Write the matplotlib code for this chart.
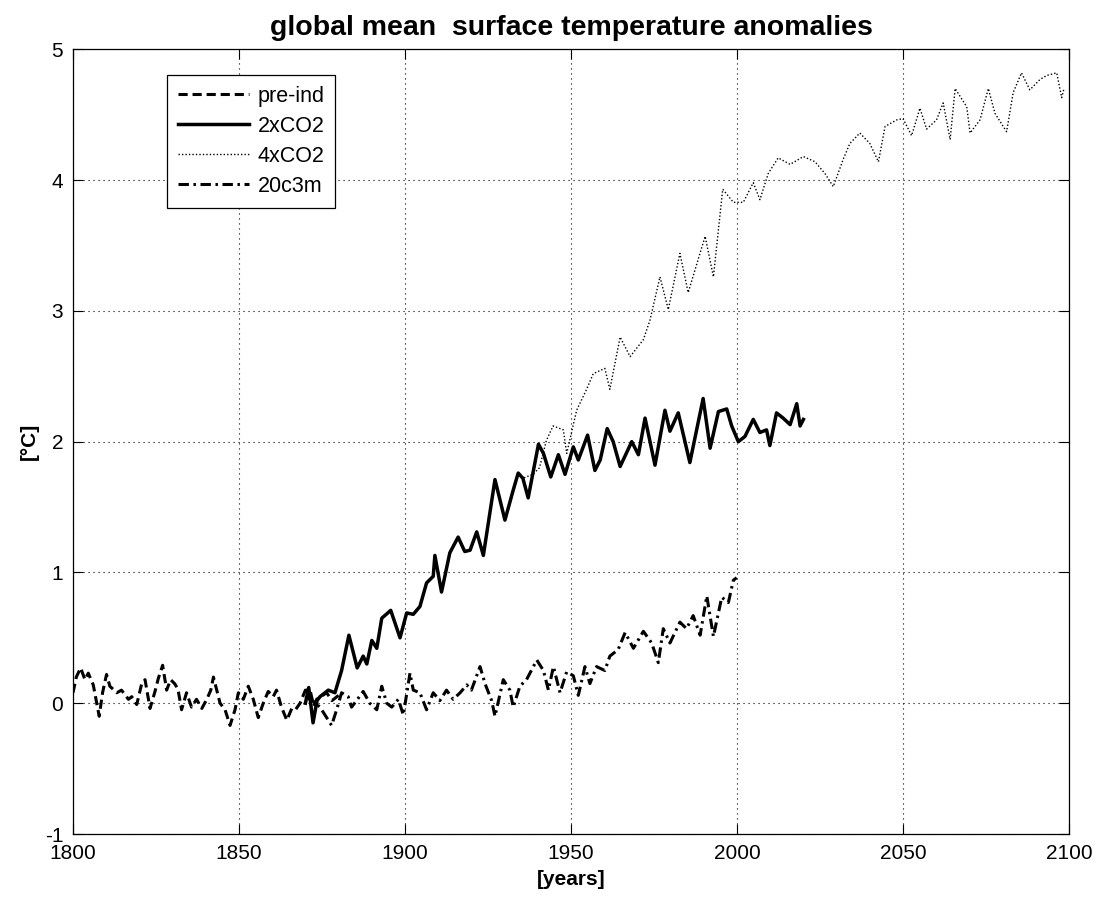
import matplotlib
matplotlib.use("Agg")
import matplotlib.pyplot as plt
import numpy as np

plt.rcParams['font.family'] = ['Liberation Sans', 'DejaVu Sans']
plt.rcParams['axes.unicode_minus'] = False

# --- pre-industrial control run ---
preind_years = [1800, 1801, 1802.3, 1803.6, 1804.6, 1806.1, 1807.9, 1808.9, 1810.1, 1811.1,
                1813.2, 1814.6, 1816.7, 1817.7, 1819.2, 1820.7, 1821.7, 1823.2, 1824.7, 1825.7,
                1827.0, 1828.2, 1829.4, 1830.6, 1831.6, 1832.7, 1834.2, 1835.7, 1837.2, 1838.8,
                1840.3, 1841.5, 1842.3, 1843.3, 1844.3, 1845.8, 1847.3, 1848.8, 1849.8, 1851.3,
                1852.8, 1854.3, 1855.8, 1857.3, 1858.8, 1860.3, 1861.3, 1862.8, 1864.4, 1865.9,
                1867.0, 1868.4, 1870.0, 1871.4, 1872.5, 1873.4, 1876.4, 1878.0, 1880.0]
preind_vals = [0.08, 0.20, 0.27, 0.18, 0.23, 0.14, -0.10, 0.08, 0.22, 0.13,
               0.08, 0.10, 0.03, 0.05, -0.01, 0.15, 0.18, -0.04, 0.09, 0.19,
               0.29, 0.10, 0.18, 0.15, 0.11, -0.05, 0.08, -0.03, 0.03, -0.04,
               0.03, 0.10, 0.20, 0.10, 0.00, -0.05, -0.17, -0.05, 0.08, 0.03,
               0.13, 0.03, -0.11, 0.00, 0.09, 0.05, 0.10, -0.03, -0.13, -0.04,
               -0.05, 0.00, 0.10, 0.10, -0.02, 0.03, 0.08, 0.02, 0.06]

# --- 1%/yr CO2 increase, stabilised at doubling ---
co2x2_years = [1870.0, 1871.0, 1872.3, 1873.5, 1874.4, 1876.9, 1878.9, 1880.9, 1883.1, 1885.6,
               1887.4, 1888.5, 1890.0, 1891.5, 1893.0, 1895.7, 1898.5, 1900.5, 1902.5, 1904.5,
               1906.5, 1908.5, 1909.0, 1911.0, 1913.5, 1916.0, 1918.0, 1919.6, 1921.6, 1923.6,
               1927.1, 1930.1, 1932.6, 1934.1, 1935.5, 1937.1, 1940.2, 1941.7, 1943.9, 1946.2,
               1948.2, 1950.7, 1952.2, 1955.0, 1957.2, 1958.8, 1960.9, 1962.7, 1964.8, 1968.3,
               1970.3, 1972.3, 1975.3, 1978.3, 1979.8, 1982.3, 1985.8, 1989.8, 1991.9, 1994.4,
               1996.9, 1998.4, 2000.4, 2002.4, 2004.9, 2006.9, 2008.9, 2009.9, 2011.9, 2013.9,
               2016.0, 2018.0, 2019.0, 2020.0]
co2x2_vals = [0.00, 0.12, -0.15, 0.02, 0.05, 0.10, 0.08, 0.25, 0.52, 0.27,
              0.36, 0.30, 0.48, 0.42, 0.65, 0.71, 0.50, 0.69, 0.68, 0.74,
              0.92, 0.97, 1.13, 0.85, 1.15, 1.27, 1.16, 1.17, 1.31, 1.13,
              1.71, 1.40, 1.63, 1.76, 1.72, 1.57, 1.98, 1.91, 1.73, 1.90,
              1.75, 1.96, 1.86, 2.05, 1.78, 1.86, 2.10, 2.00, 1.81, 2.00,
              1.90, 2.18, 1.82, 2.24, 2.08, 2.22, 1.84, 2.33, 1.95, 2.23,
              2.25, 2.12, 2.00, 2.04, 2.17, 2.07, 2.09, 1.97, 2.22, 2.18,
              2.13, 2.29, 2.12, 2.17]

# --- 1%/yr CO2 increase, stabilised at quadrupling (branches off after 1935) ---
co2x4_branch_year = 1935.5
co2x4_years_late = [1938.5, 1940.5, 1942.6, 1944.6, 1947.7, 1948.7, 1951.7, 1954.7, 1956.7, 1960.2,
                    1961.7, 1964.8, 1967.8, 1971.8, 1973.8, 1976.8, 1979.3, 1982.8, 1985.3, 1990.4,
                    1992.9, 1994.4, 1995.7, 1998.9, 2001.9, 2004.9, 2006.9, 2009.4, 2012.4, 2016.0,
                    2020.0, 2023.5, 2026.5, 2029.0, 2032.0, 2034.0, 2037.0, 2040.0, 2042.6, 2044.6,
                    2048.1, 2050.0, 2052.6, 2055.1, 2057.1, 2060.1, 2062.1, 2064.2, 2065.7, 2069.2,
                    2070.2, 2073.2, 2075.7, 2077.7, 2081.2, 2083.2, 2085.7, 2088.2, 2091.3, 2093.3,
                    2096.3, 2097.8, 2098.5]
co2x4_vals_late = [1.75, 1.80, 2.01, 2.12, 2.09, 1.91, 2.24, 2.40, 2.52, 2.56,
                   2.40, 2.80, 2.65, 2.78, 2.93, 3.26, 3.01, 3.44, 3.14, 3.57,
                   3.26, 3.62, 3.93, 3.83, 3.83, 3.98, 3.85, 4.05, 4.17, 4.12,
                   4.18, 4.14, 4.05, 3.95, 4.16, 4.28, 4.36, 4.28, 4.14, 4.41,
                   4.46, 4.47, 4.34, 4.55, 4.39, 4.46, 4.59, 4.31, 4.70, 4.56,
                   4.36, 4.46, 4.70, 4.51, 4.37, 4.67, 4.82, 4.69, 4.77, 4.80,
                   4.82, 4.63, 4.70]

# --- 20th century forcing run ---
c20_years = [1870.0, 1872.0, 1874.4, 1877.9, 1879.4, 1880.9, 1882.9, 1883.9, 1885.4, 1887.4,
             1889.4, 1891.5, 1893.0, 1894.5, 1896.0, 1898.0, 1899.5, 1901.5, 1902.5, 1904.5,
             1906.5, 1908.5, 1910.5, 1912.5, 1914.5, 1916.6, 1918.6, 1920.0, 1922.6, 1924.1,
             1926.1, 1927.1, 1929.6, 1931.6, 1932.6, 1934.6, 1936.6, 1939.7, 1941.7, 1943.2,
             1944.7, 1946.7, 1948.7, 1950.7, 1952.2, 1954.2, 1955.7, 1957.7, 1960.2, 1961.7,
             1964.2, 1966.3, 1968.8, 1971.8, 1974.3, 1976.3, 1977.8, 1979.8, 1982.8, 1984.8,
             1986.8, 1988.9, 1990.9, 1992.9, 1995.4, 1997.4, 1998.9, 1999.9]
c20_vals = [0.05, 0.02, -0.03, -0.17, -0.05, 0.08, 0.05, -0.03, 0.02, 0.09,
            0.00, -0.05, 0.13, 0.00, -0.03, 0.03, -0.09, 0.23, 0.10, 0.08,
            -0.05, 0.08, 0.02, 0.10, 0.03, 0.08, 0.14, 0.10, 0.28, 0.15,
            0.02, -0.10, 0.18, 0.10, -0.03, 0.13, 0.18, 0.33, 0.25, 0.10,
            0.28, 0.08, 0.24, 0.21, 0.06, 0.28, 0.15, 0.28, 0.25, 0.36,
            0.41, 0.54, 0.42, 0.55, 0.46, 0.31, 0.57, 0.46, 0.62, 0.57,
            0.67, 0.52, 0.82, 0.51, 0.81, 0.77, 0.94, 0.96]

xticks = [1800, 1850, 1900, 1950, 2000, 2050, 2100]
yticks = [-1, 0, 1, 2, 3, 4, 5]

# 4xCO2 shares the 2xCO2 trajectory up to the branching year
x2y = np.array(co2x2_years)
x2v = np.array(co2x2_vals)
shared = x2y <= co2x4_branch_year
co2x4_years = np.concatenate([x2y[shared], co2x4_years_late])
co2x4_vals = np.concatenate([x2v[shared], co2x4_vals_late])

fig = plt.figure(figsize=(11, 9), dpi=100)
ax = fig.add_axes([73 / 1100, 1 - 834 / 900, 996 / 1100, (834 - 49.3) / 900])

ax.plot(preind_years, preind_vals, color='black', lw=2.2, dashes=(3.0, 1.6), label='pre-ind')
ax.plot(co2x4_years, co2x4_vals, color='black', lw=1.0, dashes=(1.0, 1.5), label='4xCO2', zorder=2)
ax.plot(c20_years, c20_vals, color='black', lw=2.2, dashes=(3.4, 1.5, 0.8, 1.5), label='20c3m')
ax.plot(co2x2_years, co2x2_vals, color='black', lw=2.5, label='2xCO2', zorder=3)

ax.set_xlim(1800, 2100)
ax.set_ylim(-1, 5)
ax.set_xticks(xticks)
ax.set_yticks(yticks)
ax.grid(True, color='black', linestyle=(0, (1, 3.5)), linewidth=0.8)
ax.tick_params(direction='in', length=7.5, width=0.8, labelsize=15, top=True, right=True, pad=7)
for s in ax.spines.values():
    s.set_linewidth(0.9)

ax.set_title('global mean  surface temperature anomalies', fontsize=20.5, fontweight='bold', pad=10)
ax.set_xlabel('[years]', fontsize=15, fontweight='bold', labelpad=5)
ax.set_ylabel('[°C]', fontsize=15, fontweight='bold', labelpad=4)

h, l = ax.get_legend_handles_labels()
order = [l.index(n) for n in ['pre-ind', '2xCO2', '4xCO2', '20c3m']]
leg = ax.legend([h[i] for i in order], [l[i] for i in order], loc='upper left',
                bbox_to_anchor=((167 - 73) / 996, (834 - 75) / 784.7), fontsize=15.5,
                frameon=True, fancybox=False, edgecolor='black', framealpha=1,
                handlelength=3.3, handletextpad=0.4, labelspacing=0.42, borderpad=0.5,
                borderaxespad=0)
leg.get_frame().set_linewidth(0.9)

fig.savefig('out.png', dpi=100)
